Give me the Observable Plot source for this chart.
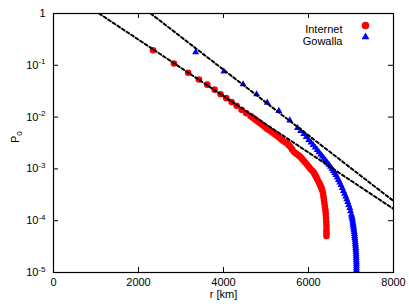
<!DOCTYPE html>
<html><head><meta charset="utf-8">
<script src="https://cdn.jsdelivr.net/npm/d3@7"></script>
<script src="https://cdn.jsdelivr.net/npm/@observablehq/plot@0.6"></script>
<style>body{margin:0;background:#fff}</style>
</head><body><div id="chart"></div>
<script>
const internetR = [2341,2834,3168,3422,3619,3791,3932,4066,4190,4308,4425,4536,4637,4684,4731,4778,4825,4872,4919,4966,5013,5060,5107,5154,5201,5248,5295,5342,5389,5444,5499,5538,5577,5616,5654,5698,5741,5777,5812,5847,5882,5923,5964,6006,6047,6086,6124,6145,6165,6185,6204,6231,6258,6276,6293,6308,6322,6340,6352,6364,6376,6387,6399,6406,6411,6418,6423,6423,6423,6423];
const internetP = [0.1954,0.1083,0.0720,0.0533,0.0423,0.0339,0.0277,0.0232,0.0195,0.0165,0.0138,0.0119,0.01045,0.00977,0.00914,0.00856,0.00801,0.00749,0.00701,0.00651,0.00605,0.00570,0.00537,0.00502,0.00470,0.00440,0.00412,0.00381,0.00353,0.00331,0.00311,0.00287,0.00264,0.00238,0.00214,0.00201,0.00189,0.00179,0.00169,0.00157,0.00145,0.00133,0.00122,0.00110,0.000995,0.000921,0.000853,0.000792,0.000736,0.000686,0.000639,0.000578,0.000523,0.000486,0.000452,0.000421,0.000392,0.000343,0.000294,0.000252,0.000215,0.000184,0.000158,0.000135,0.000113,9.48e-5,7.94e-5,6.65e-5,5.82e-5,5.09e-5];
const gowallaR = [3344,4009,4460,4778,5029,5302,5560,5741,5815,5889,5948,6007,6059,6110,6157,6204,6247,6289,6327,6364,6402,6439,6478,6517,6552,6587,6617,6646,6676,6705,6734,6763,6793,6822,6849,6876,6900,6923,6947,6970,6990,7010,7019,7027,7034,7041,7047,7052,7058,7064,7070,7076,7081,7085,7090,7095,7100,7104,7108,7111,7114,7116,7119,7121,7122,7123,7126,7128,7128,7128,7128,7128,7128,7128];
const gowallaP = [0.1788,0.0760,0.0429,0.0275,0.0190,0.0132,0.00863,0.00614,0.00537,0.00470,0.00412,0.00361,0.00323,0.00289,0.00258,0.00231,0.00209,0.00189,0.00173,0.00158,0.00145,0.00133,0.00121,0.00110,0.00100,0.000911,0.000833,0.000762,0.000682,0.000611,0.000547,0.000490,0.000429,0.000375,0.000332,0.000294,0.000260,0.000230,0.000202,0.000177,0.000153,0.000132,0.000122,0.000113,0.000105,9.70e-5,8.97e-5,8.30e-5,7.68e-5,7.11e-5,6.58e-5,6.08e-5,5.56e-5,5.09e-5,4.66e-5,4.27e-5,3.90e-5,3.57e-5,3.27e-5,2.99e-5,2.74e-5,2.51e-5,2.30e-5,2.10e-5,1.92e-5,1.76e-5,1.61e-5,1.47e-5,1.35e-5,1.23e-5,1.13e-5,1.03e-5,9.4e-6,8.6e-6];
const fitInternetR = [1072, 8000];
const fitInternetP = [1, 1.69e-4];
const fitGowallaR = [2287, 8000];
const fitGowallaP = [1, 2.40e-4];
const xTicks = [0, 2000, 4000, 6000, 8000];
const yTicks = [1, 1e-1, 1e-2, 1e-3, 1e-4, 1e-5];
const yTickLabels = ["1", "10^-1", "10^-2", "10^-3", "10^-4", "10^-5"];
const legendLabels = ["Internet", "Gowalla"];
const xLabel = "r [km]";
const yLabel = "P0";

const internet = internetR.map((r, i) => ({r, P: internetP[i]}));
const gowalla = gowallaR.map((r, i) => ({r, P: gowallaP[i]}));
const fitI = fitInternetR.map((r, i) => ({r, P: fitInternetP[i]}));
const fitG = fitGowallaR.map((r, i) => ({r, P: fitGowallaP[i]}));

const W = 409, H = 308, mL = 53, mR = 16, mT = 13, mB = 36;
const iw = W - mL - mR, ih = H - mT - mB;
const font = "'Liberation Sans', Arial, sans-serif";

const svg = Plot.plot({
  width: W, height: H,
  marginLeft: mL, marginRight: mR, marginTop: mT, marginBottom: mB,
  style: {fontFamily: font, fontSize: "11px", background: "white", color: "black"},
  x: {domain: [0, 8000]},
  y: {type: "log", domain: [1e-5, 1]},
  marks: [
    Plot.dot(internet, {x: "r", y: "P", fill: "#ff0000", r: 3.3, clip: true}),
    Plot.dot(gowalla, {x: "r", y: "P", fill: "#0000ff", symbol: "triangle", r: 2.6, clip: true}),
    Plot.line(fitI, {x: "r", y: "P", stroke: "black", strokeWidth: 2, strokeDasharray: "3,2.5", clip: true}),
    Plot.line(fitG, {x: "r", y: "P", stroke: "black", strokeWidth: 2, strokeDasharray: "3,2.5", clip: true}),
    Plot.frame({stroke: "black", strokeWidth: 1.2}),
    Plot.ruleX(xTicks, {x: d => d, insetTop: ih - 5, stroke: "black"}),
    Plot.ruleX(xTicks, {x: d => d, insetBottom: ih - 5, stroke: "black"}),
    Plot.ruleY(yTicks, {y: d => d, insetRight: iw - 5, stroke: "black"}),
    Plot.ruleY(yTicks, {y: d => d, insetLeft: iw - 5, stroke: "black"}),
    Plot.axisX({ticks: xTicks, tickSize: 0, tickPadding: 6, label: null, tickFormat: d => String(d)}),
    Plot.axisY({ticks: yTicks, tickSize: 0, tickPadding: 8, label: null, tickFormat: d => yTickLabels[yTicks.indexOf(d)]}),
    Plot.text([xLabel], {text: d => d, frameAnchor: "bottom", dy: 25, fill: "black"}),
    Plot.text([yLabel], {text: d => d, frameAnchor: "left", dx: -38, rotate: -90, fill: "black", className: "ylab"}),
    Plot.text([legendLabels[0]], {text: d => d, frameAnchor: "top-right", dx: -51, dy: 12, textAnchor: "end", fill: "black"}),
    Plot.text([legendLabels[1]], {text: d => d, frameAnchor: "top-right", dx: -51, dy: 23.5, textAnchor: "end", fill: "black"}),
    Plot.dot([0], {frameAnchor: "top-right", dx: -28, dy: 12, r: 3.8, fill: "#ff0000"}),
    Plot.dot([0], {frameAnchor: "top-right", dx: -28, dy: 23.5, r: 2.9, symbol: "triangle", fill: "#0000ff"})
  ]
});

d3.select(svg).selectAll("text").each(function() {
  const t = d3.select(this);
  const s = t.text();
  if (s.includes("^")) {
    const [base, exp] = s.split("^");
    t.text(base);
    t.append("tspan").attr("font-size", "8px").attr("dy", "-0.55em").text(exp);
  }
});
d3.select(svg).selectAll(".ylab text").each(function() {
  const t = d3.select(this);
  t.text("P");
  t.append("tspan").attr("font-size", "8px").attr("dy", "0.35em").text("0");
});

document.getElementById("chart").appendChild(svg);
</script>
</body></html>
